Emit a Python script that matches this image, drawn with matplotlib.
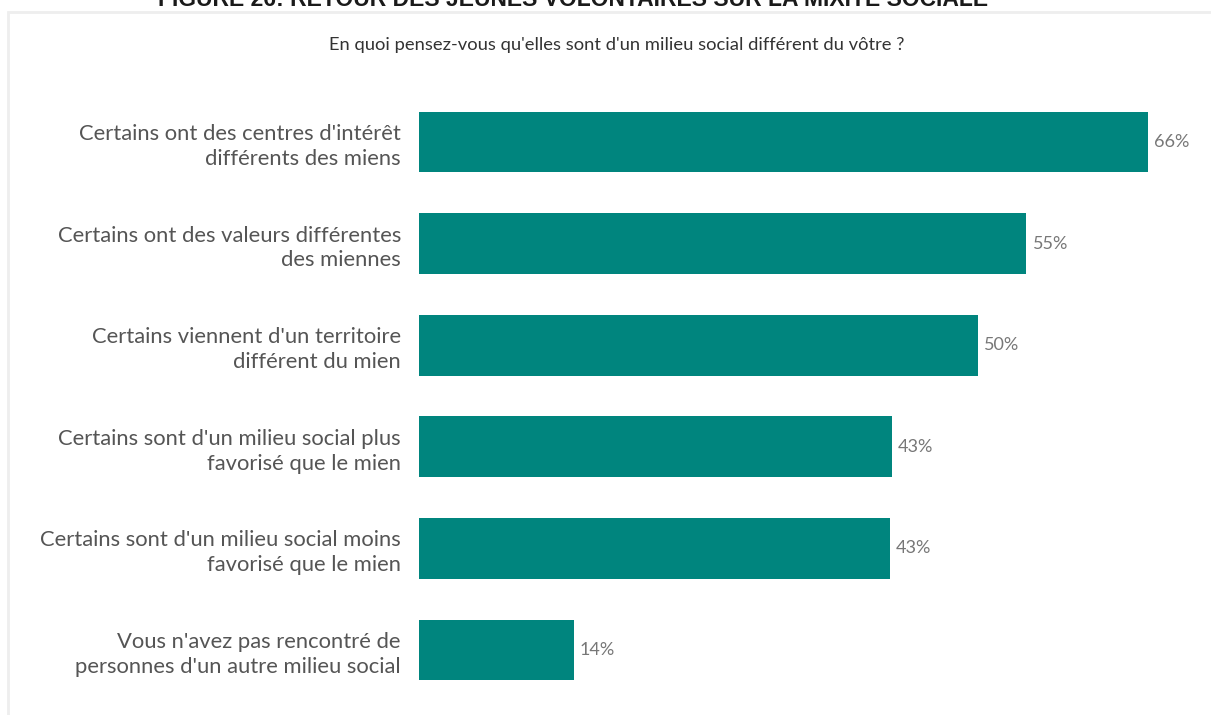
import matplotlib; matplotlib.use("Agg")
import matplotlib.pyplot as plt
from matplotlib.patches import Rectangle

# ---------- data ----------
categories = ["Certains ont des centres d'intérêt\ndifférents des miens",
              "Certains ont des valeurs différentes\ndes miennes",
              "Certains viennent d'un territoire\ndifférent du mien",
              "Certains sont d'un milieu social plus\nfavorisé que le mien",
              "Certains sont d'un milieu social moins\nfavorisé que le mien",
              "Vous n'avez pas rencontré de\npersonnes d'un autre milieu social"]
values = [66.0, 55.0, 50.6, 42.8, 42.6, 14.0]
value_labels = ["66%", "55%", "50%", "43%", "43%", "14%"]

title = "FIGURE 26: RETOUR DES JEUNES VOLONTAIRES SUR LA MIXITÉ SOCIALE"
question = "En quoi pensez-vous qu'elles sont d'un milieu social différent du vôtre ?"

TEAL = "#00857e"; W, H = 1211, 715
plt.rcParams["font.family"] = ["Lato", "DejaVu Sans"]

fig = plt.figure(figsize=(W / 100, H / 100), dpi=100)
fig.patch.set_facecolor("white")

# light grey panel frame (runs off right/bottom edge)
fig.patches.append(Rectangle((8 / W, -0.05), 1.1, 1 - 12 / H + 0.05, transform=fig.transFigure,
                             fill=False, edgecolor="#eeeeee", lw=2))

# figure title, cut off at the top edge as in the source scan
fig.text(573 / W, 1 - (-1) / H, title, ha="center", va="center", fontsize=16.5, fontweight="bold",
         color="#1a1a1a", family=["Liberation Sans Narrow", "Liberation Sans", "DejaVu Sans"])
fig.text(617 / W, 1 - 45 / H, question, ha="center", va="center", fontsize=13.2, color="#333333")

ax = fig.add_axes([419 / W, 1 - 700.8 / H, 781 / W, 609.6 / H])
ypos = list(range(len(categories)))
ax.barh(ypos, values, height=0.6, color=TEAL)
ax.set_xlim(0, 781 / 11.045); ax.set_ylim(len(categories) - 0.5, -0.5)
for y, v, lab in zip(ypos, values, value_labels):
    ax.text(v + 0.55, y, lab, va="center", ha="left", fontsize=13, color="#777777")
ax.set_yticks(ypos); ax.set_yticklabels(categories, fontsize=15.8, color="#555555", linespacing=1.3)
ax.tick_params(axis="y", length=0, pad=13); ax.set_xticks([])
for s in ax.spines.values(): s.set_visible(False)

fig.savefig("out.png", dpi=100, facecolor="white")
